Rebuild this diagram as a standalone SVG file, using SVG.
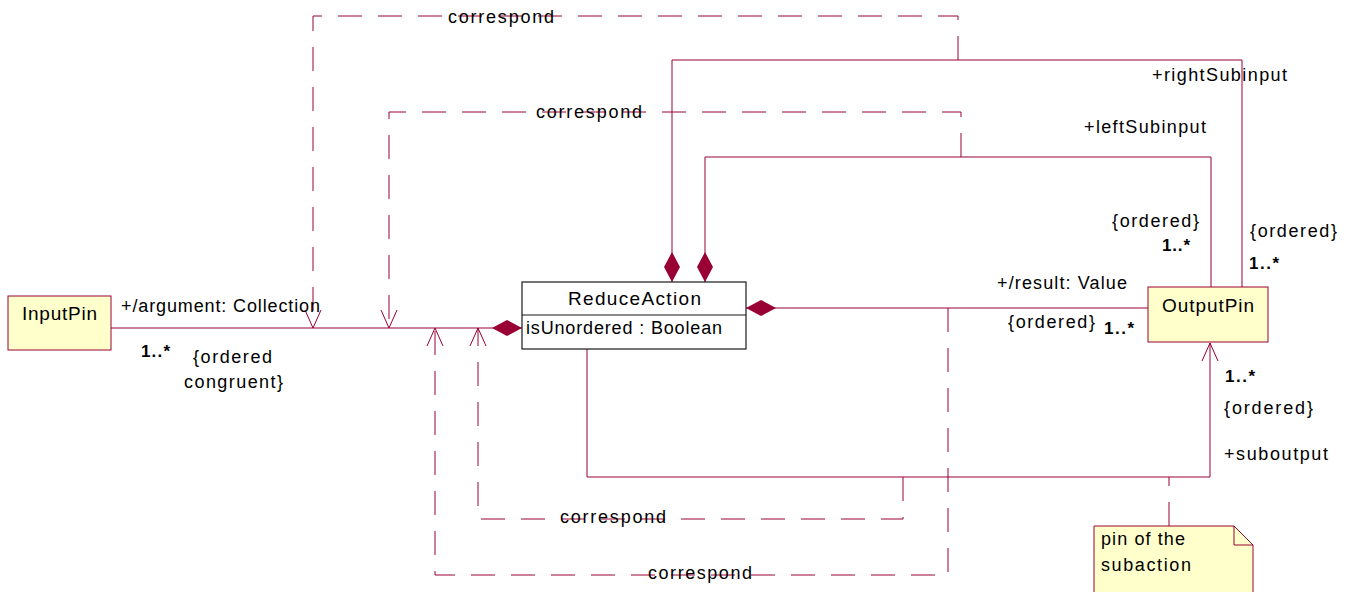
<svg xmlns="http://www.w3.org/2000/svg" width="1348" height="592" viewBox="0 0 1348 592">
  <style>
    .line { fill: none; stroke: #990033; stroke-width: 1; }
    .dash { fill: none; stroke: #990033; stroke-width: 1; stroke-dasharray: 24 16; }
    .pin { fill: #ffffcc; stroke: #990033; stroke-width: 1; }
    .cls { fill: #ffffff; stroke: #1a1a1a; stroke-width: 1.2; }
    text { font-family: "Liberation Sans", Arial, Helvetica, sans-serif; fill: #000; }
    .lbl { font-size: 18px; }
    .name { font-size: 19px; }
    .mult { font-size: 17px; font-weight: bold; }
  </style>
  <defs>
    <!-- filled composition diamond, anchored at its tip -->
    <marker id="diamond" markerUnits="userSpaceOnUse" viewBox="0 0 30 16" markerWidth="30" markerHeight="16" refX="0" refY="8" orient="auto" overflow="visible">
      <path d="M0,8 L15,0 L30,8 L15,16 Z" fill="#990033" stroke="none"/>
    </marker>
    <!-- open navigation arrowhead -->
    <marker id="open" markerUnits="userSpaceOnUse" viewBox="-20 -10 22 20" markerWidth="22" markerHeight="20" refX="0" refY="0" orient="auto" overflow="visible">
      <path d="M-18,-8 L0,0 L-18,8" fill="none" stroke="#990033" stroke-width="1" stroke-dasharray="none"/>
    </marker>
  </defs>

  <g id="connectors">
    <!-- compositions from ReduceAction -->
    <path class="line" d="M522,328 H111" marker-start="url(#diamond)"/>
    <path class="line" d="M672,282 V60 H1242 V287" marker-start="url(#diamond)"/>
    <path class="line" d="M705,282 V157 H1211 V287" marker-start="url(#diamond)"/>
    <path class="line" d="M746,308 H1148" marker-start="url(#diamond)"/>
    <!-- suboutput association -->
    <path class="line" d="M587,349 V477 H1210 V343" marker-end="url(#open)"/>

    <!-- correspond dependencies -->
    <path class="dash" d="M958,60 V16 H313 V328" marker-end="url(#open)"/>
    <path class="dash" d="M961,157 V112 H389 V328" marker-end="url(#open)"/>
    <path class="dash" d="M903,477 V519 H478 V328" marker-end="url(#open)"/>
    <path class="dash" d="M948,308 V575 H435 V328" marker-end="url(#open)"/>
    <!-- note anchor -->
    <path class="dash" d="M1169,526 V477"/>

    <!-- role names, multiplicities and constraints -->
    <text class="lbl" x="448" y="23" textLength="106" lengthAdjust="spacing">correspond</text>
    <text class="lbl" x="536" y="118" textLength="106" lengthAdjust="spacing">correspond</text>
    <text class="lbl" x="560" y="523" textLength="106" lengthAdjust="spacing">correspond</text>
    <text class="lbl" x="648" y="579" textLength="104" lengthAdjust="spacing">correspond</text>

    <text class="lbl" x="121" y="312" textLength="199" lengthAdjust="spacing">+/argument: Collection</text>
    <text class="mult" x="141" y="357" textLength="29" lengthAdjust="spacing">1..*</text>
    <text class="lbl" x="193" y="363" textLength="79" lengthAdjust="spacing">{ordered</text>
    <text class="lbl" x="184" y="388" textLength="99" lengthAdjust="spacing">congruent}</text>

    <text class="lbl" x="1152" y="81" textLength="135" lengthAdjust="spacing">+rightSubinput</text>
    <text class="lbl" x="1084" y="133" textLength="122" lengthAdjust="spacing">+leftSubinput</text>
    <text class="lbl" x="1112" y="227" textLength="87" lengthAdjust="spacing">{ordered}</text>
    <text class="mult" x="1162" y="251" textLength="28" lengthAdjust="spacing">1..*</text>
    <text class="lbl" x="1250" y="237" textLength="87" lengthAdjust="spacing">{ordered}</text>
    <text class="mult" x="1249" y="269" textLength="30" lengthAdjust="spacing">1..*</text>

    <text class="lbl" x="997" y="289" textLength="130" lengthAdjust="spacing">+/result: Value</text>
    <text class="lbl" x="1008" y="328" textLength="87" lengthAdjust="spacing">{ordered}</text>
    <text class="mult" x="1104" y="334" textLength="30" lengthAdjust="spacing">1..*</text>

    <text class="mult" x="1225" y="382" textLength="30" lengthAdjust="spacing">1..*</text>
    <text class="lbl" x="1224" y="414" textLength="89" lengthAdjust="spacing">{ordered}</text>
    <text class="lbl" x="1224" y="460" textLength="104" lengthAdjust="spacing">+suboutput</text>
  </g>

  <g id="InputPin">
    <rect class="pin" x="8" y="296" width="103" height="54"/>
    <text class="name" x="22" y="320" textLength="75" lengthAdjust="spacing">InputPin</text>
  </g>

  <g id="ReduceAction">
    <rect class="cls" x="522" y="282" width="224" height="67"/>
    <line x1="522" y1="315" x2="746" y2="315" stroke="#1a1a1a" stroke-width="1.2"/>
    <text class="name" x="568" y="305" textLength="133" lengthAdjust="spacing">ReduceAction</text>
    <text class="lbl" x="526" y="334" textLength="196" lengthAdjust="spacing">isUnordered : Boolean</text>
  </g>

  <g id="OutputPin">
    <rect class="pin" x="1148" y="287" width="120" height="55"/>
    <text class="name" x="1162" y="312" textLength="92" lengthAdjust="spacing">OutputPin</text>
  </g>

  <g id="note">
    <path class="pin" d="M1094,600 V526 H1234 L1253,545 V600"/>
    <path class="line" d="M1234,526 V545 H1253"/>
    <text class="lbl" x="1101" y="545" textLength="84" lengthAdjust="spacing">pin of the</text>
    <text class="lbl" x="1101" y="571" textLength="90" lengthAdjust="spacing">subaction</text>
  </g>
</svg>
